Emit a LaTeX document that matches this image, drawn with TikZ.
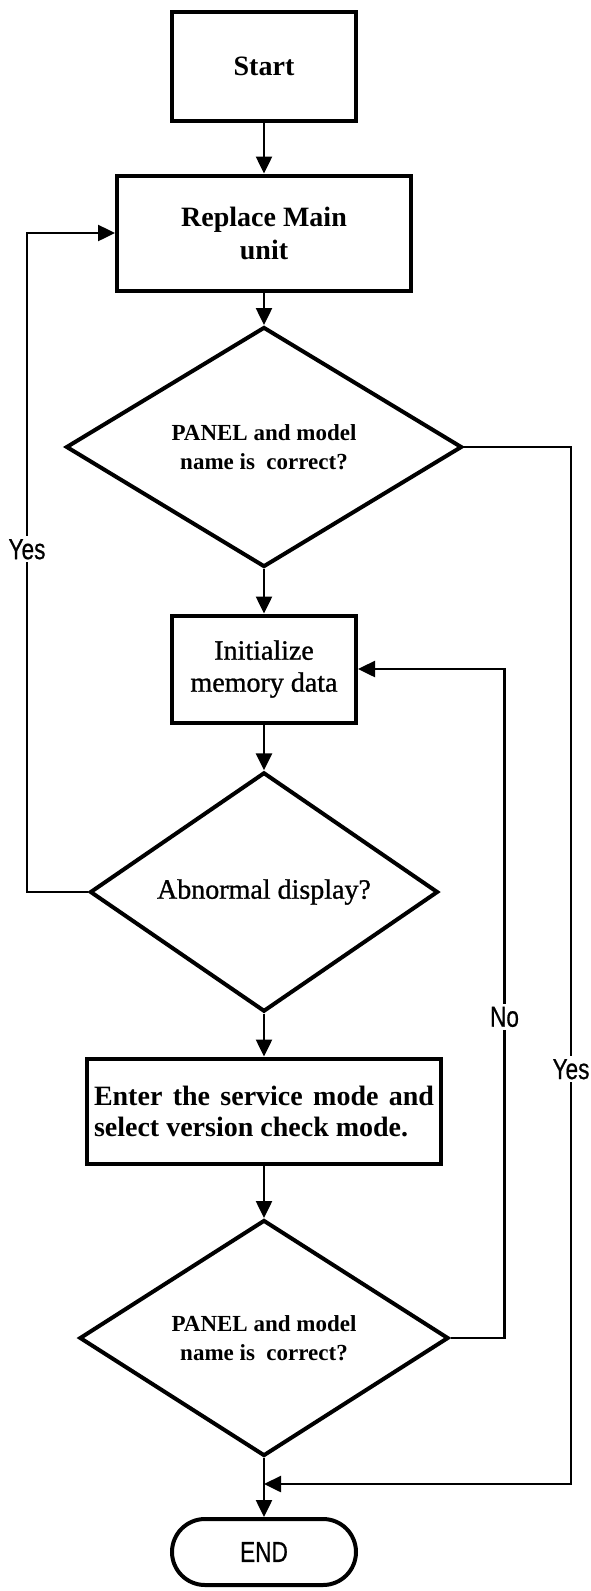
\documentclass[tikz,border=0pt]{standalone}
\usepackage{fontspec}
\setmainfont{Liberation Serif}
\newfontfamily\medfont[FakeBold=1]{Liberation Serif}
\newfontfamily\lblfont[FakeStretch=0.78,FakeBold=0.6]{Liberation Sans}
\usetikzlibrary{shapes.geometric,arrows.meta}

\begin{document}
\begin{tikzpicture}[x=1pt,y=1pt,>={Triangle[length=17pt,width=16pt]},line width=2.5pt]
    \tikzstyle{procbox}=[rectangle,draw=black,line width=4pt,inner sep=0pt,align=center]
    \tikzstyle{test}=[diamond,draw=black,line width=4pt,inner sep=0pt,align=center]
    \tikzstyle{tag}=[font=\lblfont\fontsize{29}{32}\selectfont,fill=white,inner sep=3pt]
    \useasboundingbox (0,0) rectangle (590,-1591);

    \node[procbox,minimum width=184pt,minimum height=109pt,font=\bfseries\fontsize{28}{32}\selectfont] (start) at (264,-66) {Start};
    \node[procbox,minimum width=294pt,minimum height=115pt,font=\bfseries\fontsize{28}{33}\selectfont] (replace) at (264,-233) {Replace Main\\unit};
    \node[test,minimum width=396pt,minimum height=240pt,font=\bfseries\fontsize{23}{29}\selectfont] (chk1) at (264,-447) {PANEL and model\\name is~ correct?};
    \node[procbox,minimum width=184pt,minimum height=107pt,font=\medfont\fontsize{28}{32}\selectfont] (init) at (264,-669) {Initialize\\memory data};
    \node[test,minimum width=348pt,minimum height=192pt,font=\medfont\fontsize{28}{32}\selectfont] (abn) at (264,-892) {Abnormal display?};
    \node[procbox,minimum width=354pt,minimum height=105pt,inner xsep=7pt,text width=340pt,align=justify,font=\bfseries\fontsize{28}{31}\selectfont] (enter) at (264,-1111) {Enter the service mode and select version check mode.};
    \node[test,minimum width=369pt,minimum height=236pt,font=\bfseries\fontsize{23}{29}\selectfont] (chk2) at (264,-1338) {PANEL and model\\name is~ correct?};
    \node[procbox,rounded corners=33pt,minimum width=184pt,minimum height=66pt,font=\lblfont\fontsize{29}{32}\selectfont] (stop) at (264,-1552) {END};

    \foreach \from/\to in {start/replace,replace/chk1,chk1/init,init/abn,abn/enter,enter/chk2,chk2/stop}
        \draw[->] (\from.south) -- (\to.north);

    \coordinate (merge) at (264,-1484);
    \draw[->] (abn.west) -- ++(-61,0) |- node[tag,pos=0.26] {Yes} (replace.west);
    \draw[->] (chk2.east) -- ++(54,0) |- node[tag,pos=0.24] {No} (init.east);
    \draw[->] (chk1.east) -- ++(107,0) |- node[tag,pos=0.30] {Yes} (merge);
\end{tikzpicture}
\end{document}
